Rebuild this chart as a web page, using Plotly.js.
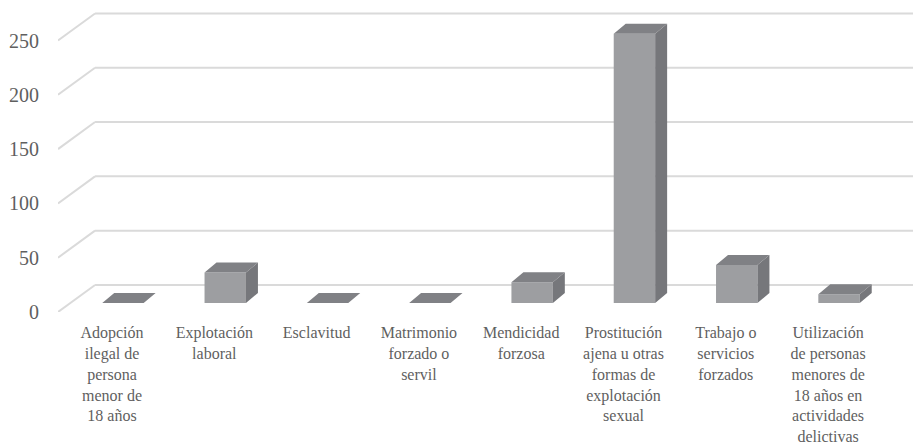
<!DOCTYPE html>
<html>
<head>
<meta charset="utf-8">
<script src="https://cdn.plot.ly/plotly-3.0.1.min.js"></script>
<style>
  html, body { margin: 0; padding: 0; background: #ffffff; }
  #chart { width: 913px; height: 445px; }
</style>
</head>
<body>
<div id="chart"></div>
<script>
// ---- data ----
const categories = [
  "Adopción<br>ilegal de<br>persona<br>menor de<br>18 años",
  "Explotación<br>laboral",
  "Esclavitud",
  "Matrimonio<br>forzado o<br>servil",
  "Mendicidad<br>forzosa",
  "Prostitución<br>ajena u otras<br>formas de<br>explotación<br>sexual",
  "Trabajo o<br>servicios<br>forzados",
  "Utilización<br>de personas<br>menores de<br>18 años en<br>actividades<br>delictivas"
];
const values = [0, 28, 0, 0, 19, 248, 35, 8];
const yTickValues = [0, 50, 100, 150, 200, 250];
const yTickLabels = ["0", "50", "100", "150", "200", "250"];

// ---- 3D style constants (axis units) ----
const X_RANGE = [-0.528, 7.83];
const Y_RANGE = [0, 287.3];
const BAR_SHIFT = 0.107;   // front face offset from label centre
const BAR_W = 0.405;       // front face width
const BASE = 8.3;          // bar floor position above the front plane
const DX = 0.117, DY = 9.2;      // bar depth offset
const WALL_DX = 0.362, WALL_DY = 24.9; // floor depth to back wall

const FRONT = "#9d9ea1", TOP = "#808185", SIDE = "#76777b";
const GRID = "#dadada", TEXT = "#5f5f5f";
const FONT = "'Liberation Serif', 'Times New Roman', 'DejaVu Serif', serif";

const xs = categories.map((_, i) => i);
const barX = xs.map(i => i + BAR_SHIFT);

// top and side faces built from the values
const topX = [], topY = [], sideX = [], sideY = [];
values.forEach((v, i) => {
  const l = barX[i] - BAR_W / 2, r = barX[i] + BAR_W / 2, t = BASE + v;
  topX.push(l, r, r + DX, l + DX, l, null);
  topY.push(t, t, t + DY, t + DY, t, null);
  if (v > 0) {
    sideX.push(r, r + DX, r + DX, r, r, null);
    sideY.push(BASE, BASE + DY, t + DY, t, BASE, null);
  }
});

// gridlines on back wall and left side wall
const shapes = [];
yTickValues.forEach(t => {
  shapes.push({type: "line", layer: "below", xref: "x", yref: "y",
    x0: X_RANGE[0], y0: t, x1: X_RANGE[0] + WALL_DX, y1: t + WALL_DY,
    line: {color: GRID, width: 2}});
  shapes.push({type: "line", layer: "below", xref: "x", yref: "y",
    x0: X_RANGE[0] + WALL_DX, y0: t + WALL_DY, x1: X_RANGE[1], y1: t + WALL_DY,
    line: {color: GRID, width: 2}});
});

const traces = [
  {type: "bar", x: barX, y: values, base: BASE, width: BAR_W,
   marker: {color: FRONT, line: {width: 0}}, hoverinfo: "skip", showlegend: false},
  {type: "scatter", mode: "lines", x: sideX, y: sideY, fill: "toself",
   fillcolor: SIDE, line: {width: 0, color: SIDE}, hoverinfo: "skip", showlegend: false},
  {type: "scatter", mode: "lines", x: topX, y: topY, fill: "toself",
   fillcolor: TOP, line: {width: 0, color: TOP}, hoverinfo: "skip", showlegend: false}
];

const layout = {
  width: 913, height: 445,
  margin: {l: 58, r: 0, t: 0, b: 133},
  paper_bgcolor: "#ffffff", plot_bgcolor: "#ffffff",
  showlegend: false,
  xaxis: {
    range: X_RANGE, showgrid: false, zeroline: false, showline: false,
    tickmode: "array", tickvals: xs, ticktext: categories,
    ticks: "outside", ticklen: 6, tickcolor: "rgba(0,0,0,0)",
    tickangle: 0,
    tickfont: {family: FONT, size: 16, color: TEXT},
    fixedrange: true
  },
  yaxis: {
    range: Y_RANGE, showgrid: false, zeroline: false, showline: false,
    tickmode: "array", tickvals: yTickValues, ticktext: yTickLabels,
    ticks: "outside", ticklen: 14, tickcolor: "rgba(0,0,0,0)",
    tickfont: {family: FONT, size: 20, color: TEXT},
    fixedrange: true
  },
  shapes: shapes
};

Plotly.newPlot("chart", traces, layout, {displayModeBar: false, staticPlot: true});
</script>
</body>
</html>
